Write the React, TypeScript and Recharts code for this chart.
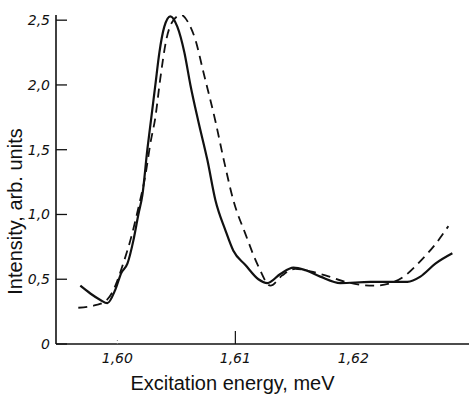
import { LineChart, Line, XAxis, YAxis } from "recharts";

// solid curve
const solidEnergy = [
  1.59686, 1.59771, 1.59856, 1.59915, 1.59983, 1.60034, 1.60085, 1.60136, 1.60178, 1.60212,
  1.60254, 1.60288, 1.60322, 1.60356, 1.60398, 1.60449, 1.60508, 1.60568, 1.60619, 1.60686,
  1.60763, 1.60831, 1.60915, 1.60983, 1.61085, 1.61195, 1.61271, 1.61381, 1.61492, 1.61593,
  1.6172, 1.6189, 1.62144, 1.62458, 1.62568, 1.62695, 1.62839,
];
const solidIntensity = [
  0.45, 0.39, 0.34, 0.315, 0.42, 0.55, 0.62, 0.8, 1.0, 1.15,
  1.5, 1.75, 2.0, 2.25, 2.45, 2.53, 2.45, 2.25, 2.0, 1.72,
  1.42, 1.11, 0.88, 0.72, 0.61, 0.5, 0.47, 0.54, 0.59, 0.57,
  0.52, 0.47, 0.48, 0.48, 0.52, 0.62, 0.7,
];

// dashed curve
const dashedEnergy = [
  1.59669, 1.59814, 1.59898, 1.59958, 1.6, 1.60042, 1.6011, 1.60178, 1.60237, 1.6028,
  1.60322, 1.60364, 1.60415, 1.60475, 1.60542, 1.60602, 1.60661, 1.60729, 1.60831, 1.60907,
  1.60983, 1.61085, 1.61195, 1.61297, 1.61398, 1.61508, 1.61636, 1.61763, 1.61932, 1.62169,
  1.62314, 1.62441, 1.62568, 1.62695, 1.62805,
];
const dashedIntensity = [
  0.28, 0.3, 0.33, 0.4, 0.49, 0.6, 0.8, 1.05, 1.3, 1.55,
  1.75, 2.05, 2.35, 2.5, 2.54, 2.48, 2.35, 2.1, 1.72, 1.4,
  1.11, 0.85, 0.6, 0.45, 0.53, 0.58, 0.56, 0.53, 0.48, 0.45,
  0.47, 0.53, 0.64, 0.77, 0.91,
];

const xTicks = [1.6, 1.61, 1.62];
const yTicks = [0, 0.5, 1.0, 1.5, 2.0, 2.5];

const solidData = solidEnergy.map((x, i) => ({ x, y: solidIntensity[i] }));
const dashedData = dashedEnergy.map((x, i) => ({ x, y: dashedIntensity[i] }));

const comma = (v: number, digits: number) => (v === 0 ? "0" : v.toFixed(digits).replace(".", ","));

const tickFont = { fontFamily: "'DejaVu Sans', sans-serif", fontStyle: "italic", fontSize: 14, fill: "#111" };
const titleFont = { fontFamily: "'Liberation Sans', Arial, sans-serif", fontSize: 20, fill: "#111" };

const YTick = ({ x, y, payload }: any) => {
  const ax = x + 8; // axis position (tickSize 0, tickMargin 8)
  return (
    <g>
      <line x1={ax} x2={ax + 11} y1={y} y2={y} stroke="#111" strokeWidth={1.3} />
      <text x={ax - 6} y={y} dy={5} textAnchor="end" {...tickFont}>
        {comma(payload.value, 1)}
      </text>
    </g>
  );
};

const XTick = ({ x, y, payload, index }: any) => {
  const ay = y - 8;
  return (
    <g>
      {index === 1 && <line x1={x} x2={x} y1={ay} y2={ay - 13} stroke="#111" strokeWidth={1.2} />}
      {index === 0 && <line x1={x} x2={x} y1={ay} y2={ay - 5} stroke="#888" strokeWidth={1} strokeDasharray="1 2" />}
      <text x={x} y={ay + 19} textAnchor="middle" {...tickFont}>
        {comma(payload.value, 2)}
      </text>
    </g>
  );
};

const XTitle = ({ viewBox }: any) => (
  <text x={viewBox.x + viewBox.width / 2 - 30} y={viewBox.y + 46} textAnchor="middle" {...titleFont}>
    Excitation energy, meV
  </text>
);

const YTitle = ({ viewBox }: any) => {
  const cx = viewBox.x + 15;
  const cy = viewBox.y + viewBox.height / 2 + 32;
  return (
    <text
      x={cx}
      y={cy}
      textAnchor="middle"
      dominantBaseline="central"
      transform={`rotate(-90, ${cx}, ${cy})`}
      {...titleFont}
    >
      Intensity, arb. units
    </text>
  );
};

export default function App() {
  return (
    <div style={{ position: "absolute", left: 0, top: 0, width: 469, height: 396, background: "#fff" }}>
      <LineChart width={469} height={396} margin={{ top: 15, right: 0, left: 0, bottom: 0 }}>
        <XAxis
          dataKey="x"
          type="number"
          domain={[1.5948, 1.6298]}
          ticks={xTicks}
          allowDataOverflow
          height={52}
          tickSize={0}
          tickMargin={8}
          tick={<XTick />}
          axisLine={{ stroke: "#111", strokeWidth: 1.6 }}
          label={<XTitle />}
        />
        <YAxis
          type="number"
          domain={[0, 2.54]}
          ticks={yTicks}
          allowDataOverflow
          width={56}
          tickSize={0}
          tickMargin={8}
          tick={<YTick />}
          axisLine={{ stroke: "#111", strokeWidth: 1.6 }}
          label={<YTitle />}
        />
        <Line
          data={dashedData}
          dataKey="y"
          type="monotone"
          stroke="#111"
          strokeWidth={1.8}
          strokeDasharray="9 6"
          dot={false}
          isAnimationActive={false}
        />
        <Line
          data={solidData}
          dataKey="y"
          type="monotone"
          stroke="#111"
          strokeWidth={2.2}
          dot={false}
          isAnimationActive={false}
        />
      </LineChart>
    </div>
  );
}
